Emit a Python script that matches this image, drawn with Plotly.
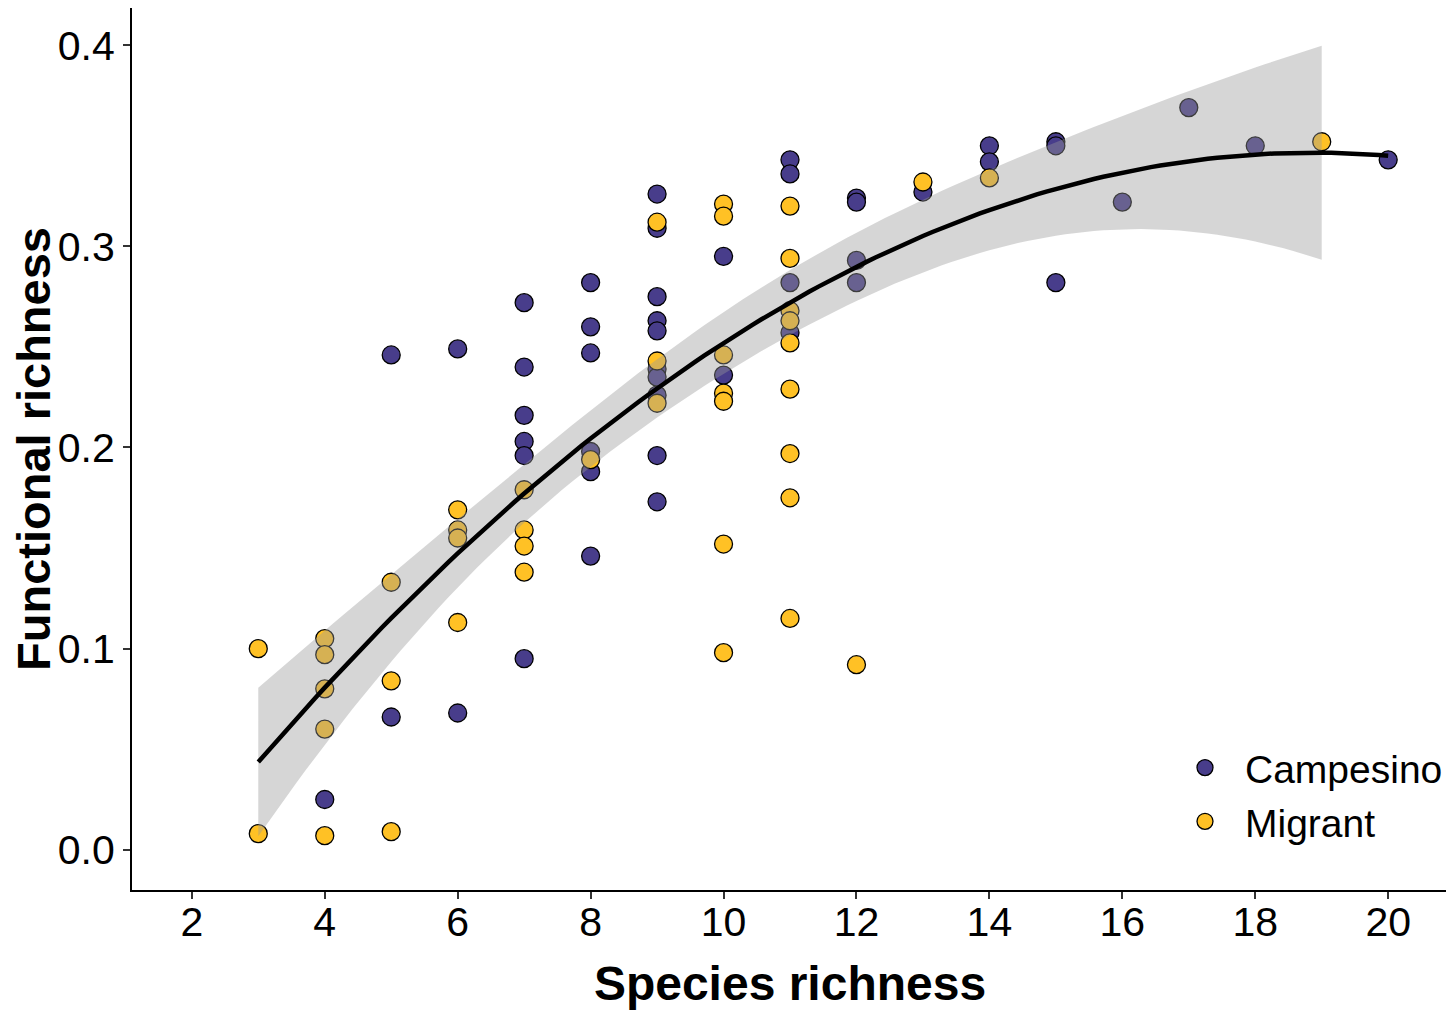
import numpy as np
import plotly.graph_objects as go

# ---- data ----
camp_x = [4, 5, 5, 6, 6,
          7, 7, 7, 7, 7, 7,
          8, 8, 8, 8, 8, 8,
          9, 9, 9, 9, 9, 9, 9, 9, 9, 9,
          10, 10,
          11, 11, 11, 11,
          12, 12, 12, 12,
          13, 14, 14, 15, 15, 15, 16, 17, 18, 20]
camp_y = [0.025, 0.246, 0.066, 0.249, 0.068,
          0.272, 0.240, 0.216, 0.203, 0.196, 0.095,
          0.282, 0.260, 0.247, 0.198, 0.188, 0.146,
          0.326, 0.309, 0.275, 0.263, 0.258, 0.239, 0.235, 0.226, 0.196, 0.173,
          0.295, 0.236,
          0.343, 0.336, 0.282, 0.257,
          0.324, 0.322, 0.293, 0.282,
          0.327, 0.350, 0.342, 0.352, 0.350, 0.282, 0.322, 0.369, 0.350, 0.343]

migr_x = [3, 3,
          4, 4, 4, 4, 4,
          5, 5, 5,
          6, 6, 6, 6,
          7, 7, 7, 7,
          8,
          9, 9, 9,
          10, 10, 10, 10, 10, 10, 10,
          11, 11, 11, 11, 11, 11, 11, 11, 11,
          12, 13, 14, 19]
migr_y = [0.100, 0.008,
          0.105, 0.097, 0.080, 0.060, 0.007,
          0.133, 0.084, 0.009,
          0.169, 0.159, 0.155, 0.113,
          0.179, 0.159, 0.151, 0.138,
          0.194,
          0.312, 0.243, 0.222,
          0.321, 0.315, 0.246, 0.227, 0.223, 0.152, 0.098,
          0.320, 0.294, 0.268, 0.263, 0.252, 0.229, 0.197, 0.175, 0.115,
          0.092, 0.332, 0.334, 0.352]

x_ticks = [2, 4, 6, 8, 10, 12, 14, 16, 18, 20]
y_ticks = [0.0, 0.1, 0.2, 0.3, 0.4]
y_tick_labels = ["0.0", "0.1", "0.2", "0.3", "0.4"]
y_limit_top = 0.4

# ---- quadratic lm fit with 95% CI (like geom_smooth(method="lm", formula=y~poly(x,2))) ----
X_all = np.array(camp_x + migr_x, dtype=float)
Y_all = np.array(camp_y + migr_y, dtype=float)
D = np.column_stack([np.ones_like(X_all), X_all, X_all ** 2])
beta, *_ = np.linalg.lstsq(D, Y_all, rcond=None)
resid = Y_all - D @ beta
n, p = D.shape
df = n - p
sigma2 = resid @ resid / df
XtX_inv = np.linalg.inv(D.T @ D)
z = 1.959964
tq = z + (z ** 3 + z) / (4 * df) + (5 * z ** 5 + 16 * z ** 3 + 3 * z) / (96 * df ** 2)

xs = np.linspace(X_all.min(), X_all.max(), 120)
Ds = np.column_stack([np.ones_like(xs), xs, xs ** 2])
fit = Ds @ beta
se = np.sqrt(np.einsum("ij,jk,ik->i", Ds, XtX_inv, Ds) * sigma2)
lo = fit - tq * se
hi = fit + tq * se
# ggplot drops ribbon where it leaves the y scale limits
idx = np.where(hi <= y_limit_top)[0]
last = idx[0]
for i in idx:
    if i == last or i == last + 1:
        last = i
    else:
        break
rx = xs[: last + 1]
rlo = lo[: last + 1]
rhi = hi[: last + 1]

PURPLE = "#483D8B"
YELLOW = "#FFC125"
FONT = "Liberation Sans, Arial, sans-serif"

fig = go.Figure()
fig.add_trace(go.Scatter(
    x=camp_x, y=camp_y, mode="markers", name="Campesino",
    marker=dict(size=18, color=PURPLE, line=dict(color="black", width=1.3)),
))
fig.add_trace(go.Scatter(
    x=migr_x, y=migr_y, mode="markers", name="Migrant",
    marker=dict(size=18, color=YELLOW, line=dict(color="black", width=1.3)),
))
fig.add_trace(go.Scatter(
    x=rx, y=rlo, mode="lines", line=dict(width=0, color="rgba(0,0,0,0)"),
    showlegend=False, hoverinfo="skip",
))
fig.add_trace(go.Scatter(
    x=rx, y=rhi, mode="lines", line=dict(width=0, color="rgba(0,0,0,0)"),
    fill="tonexty", fillcolor="rgba(153,153,153,0.4)",
    showlegend=False, hoverinfo="skip",
))
fig.add_trace(go.Scatter(
    x=xs, y=fit, mode="lines", line=dict(color="black", width=4.5),
    showlegend=False, hoverinfo="skip",
))

# page body has an 8px margin: figure is sized/placed to compensate
fig.update_layout(
    width=1446, height=1005,
    margin=dict(l=124, r=6, t=0, b=123),
    plot_bgcolor="white", paper_bgcolor="white",
    font=dict(family=FONT, color="black"),
    legend=dict(
        x=1.0, xanchor="right", y=0.108, yanchor="middle",
        font=dict(size=39, family=FONT, color="black"),
        bgcolor="rgba(0,0,0,0)", itemsizing="trace",
        traceorder="normal", tracegroupgap=0, itemwidth=70,
    ),
    showlegend=True,
    annotations=[dict(
        text="Functional richness", textangle=-90,
        xref="paper", yref="paper", x=0, y=0.5,
        xanchor="center", yanchor="middle", xshift=-99,
        showarrow=False, borderpad=0,
        font=dict(size=47, family=FONT, color="black", weight="bold"),
    )],
)
fig.update_xaxes(
    range=[1.1, 20.9], tickmode="array", tickvals=x_ticks, automargin=False,
    showline=True, linecolor="black", linewidth=2.2, mirror=False,
    ticks="outside", ticklen=7, tickwidth=2, tickcolor="#333333",
    tickfont=dict(size=41, family=FONT, color="black"),
    ticklabelstandoff=-12,
    showgrid=False, zeroline=False,
    title=dict(text="Species richness", standoff=22,
               font=dict(size=48, family=FONT, color="black", weight="bold")),
)
fig.update_yaxes(
    range=[-0.02, 0.4185], tickmode="array", tickvals=y_ticks, ticktext=y_tick_labels,
    automargin=False,
    showline=True, linecolor="black", linewidth=2.2, mirror=False,
    ticks="outside", ticklen=7, tickwidth=2, tickcolor="#333333",
    tickfont=dict(size=41, family=FONT, color="black"),
    showgrid=False, zeroline=False,
)

fig.write_html("out.html")
